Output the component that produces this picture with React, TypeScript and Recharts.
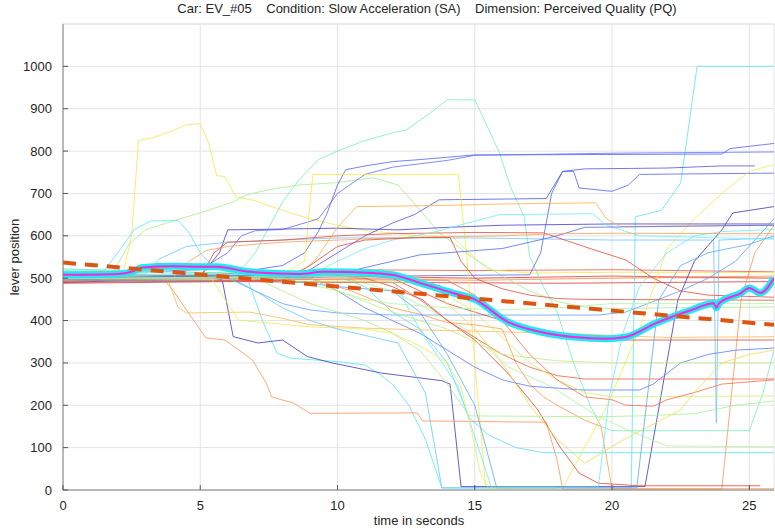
import React from 'react';
import { LineChart, Line, XAxis, YAxis, CartesianGrid, ReferenceLine } from 'recharts';

// time (s) / lever position pairs
const yellowSpike = [[0, 512], [2.2, 515], [2.5, 600], [2.75, 825], [3.3, 832], [4, 848], [4.5, 862], [5, 865], [5.3, 820], [5.6, 742], [5.9, 740], [6.3, 692], [7, 683], [8, 660], [9, 640], [10, 625], [11, 612], [12, 607], [13, 600], [14.2, 598], [14.8, 560], [15.5, 520], [17, 512], [20, 514], [25.9, 513]];
const aquaHump = [[0, 505], [5, 508], [6.5, 520], [7, 560], [7.5, 620], [8, 680], [8.6, 732], [9.3, 780], [10, 800], [11, 825], [12, 843], [12.5, 850], [13.3, 886], [14, 921], [15, 921], [15.3, 880], [15.9, 796], [16.3, 716], [16.8, 645], [17, 551], [17.5, 480], [18, 420], [18.6, 300], [19.2, 200], [19.6, 150], [20, 140], [25, 140], [25.5, 230], [25.9, 330]];
const greenRise = [[0, 500], [1.8, 510], [2.4, 580], [3, 614], [4, 635], [5, 654], [6.2, 680], [6.7, 697], [7.5, 709], [8.6, 720], [9.9, 725], [11.3, 737], [12.2, 720], [13, 661], [13.7, 607], [14.4, 574], [15, 545], [16, 505], [17, 470], [18, 445], [19, 432], [20, 428], [22, 430], [25.9, 432]];
const cyanTo1000 = [[0, 515], [1.5, 518], [2, 560], [2.6, 615], [3.2, 635], [4.2, 636], [4.6, 607], [5, 560], [5.5, 525], [6.7, 502], [7.3, 394], [7.8, 323], [8.3, 311], [10, 303], [11, 295], [11.5, 275], [12, 250], [12.6, 200], [13.2, 120], [13.8, 5], [20.7, 5], [20.85, 645], [21.8, 660], [22.5, 725], [23.1, 1000], [25.9, 1000]];
const blueTop = [[0, 498], [6, 510], [8, 530], [8.8, 560], [9.3, 610], [9.6, 650], [10, 720], [10.3, 756], [11, 765], [12, 775], [13, 780], [15, 791], [20, 792], [24, 793], [24.3, 806], [25.9, 818]];
const blueFlat = [[0, 508], [5, 520], [6, 560], [6.5, 600], [7, 612], [8, 615], [9.3, 640], [10, 700], [11, 745], [12, 762], [13, 770], [14, 778], [15, 790], [20, 795], [25.9, 798]];
const blueStep = [[0, 502], [8, 505], [9, 520], [10, 560], [11, 600], [12, 630], [12.8, 650], [13.7, 685], [17.6, 688], [18.2, 752], [19, 758], [22, 760], [24, 765], [25.2, 765]];
const blueLate = [[0, 496], [12, 505], [17, 508], [17.4, 560], [17.8, 700], [18.2, 752], [18.6, 752], [18.8, 713], [20, 705], [20.6, 720], [21, 745], [25.9, 748]];
const yellowPlateau = [[0, 520], [8, 510], [8.8, 540], [9.1, 745], [14.4, 745], [14.7, 560], [15, 300], [15.4, 5], [18.2, 5], [19, 100], [19.8, 196], [21, 380], [22, 570], [23, 640], [24, 700], [25, 752], [25.9, 768]];
const navyHigh = [[0, 494], [5, 505], [5.7, 560], [6, 614], [8, 616], [10, 618], [12.2, 614], [14, 620], [16, 625], [20, 628], [25.9, 628]];
const navyDrop = [[0, 490], [5.5, 500], [5.8, 496], [6.2, 362], [7.1, 347], [8, 354], [8.9, 315], [9.8, 300], [11.6, 276], [13.8, 258], [14.1, 250], [14.5, 8], [21.2, 8], [22.4, 449], [23, 540], [24, 614], [24.4, 654], [25.9, 669]];
const orangeLow = [[0, 495], [3.7, 495], [4, 472], [4.5, 425], [5, 378], [5.2, 359], [5.9, 354], [6.4, 331], [6.9, 307], [7.4, 253], [7.6, 220], [8.4, 205], [9, 181], [12.9, 182], [13.1, 163], [17.6, 160], [18, 71], [18.2, 2], [24, 2], [24.7, 449], [25.2, 560], [25.9, 625]];
const orangeMid = [[0, 503], [9, 500], [10.5, 470], [12, 430], [13, 415], [14, 395], [15, 390], [16, 380], [16.5, 300], [17, 250], [17.5, 220], [18, 200], [19, 165], [19.6, 150], [20, 3], [25.9, 3]];
const blue413 = [[0, 510], [6, 505], [7, 470], [8, 440], [9, 425], [10, 418], [12, 413], [19.5, 413], [20.5, 420], [21.5, 445], [22.5, 470], [23.5, 500], [24.5, 540], [25.2, 590], [25.9, 640]];
const redDiag = [[0, 500], [10, 505], [11, 500], [12, 480], [12.5, 465], [13.1, 449], [14, 400], [15, 354], [16.2, 276], [17.3, 189], [18.1, 102], [18.8, 40], [19.5, 16], [21, 10], [25.4, 10]];
const skySpike = [[0, 506], [3, 510], [3.5, 545], [4.5, 575], [6, 585], [10, 595], [15, 595], [20, 590], [23.7, 590], [23.8, 158], [23.9, 590], [25.9, 595]];
const cyan88 = [[0, 522], [10, 505], [11, 480], [12, 420], [13, 380], [14, 300], [14.8, 170], [15.5, 130], [16.5, 100], [17.5, 88], [25.9, 88]];
const green173 = [[0, 505], [7, 500], [8, 470], [9, 440], [10, 420], [11, 400], [12, 370], [13, 330], [14, 250], [14.8, 175], [19.5, 173], [21, 175], [23, 180], [24.5, 200], [25.9, 210]];
const greenDiag = [[0, 512], [10, 505], [12, 470], [13.5, 420], [14.7, 378], [16.2, 291], [17.8, 244], [19.5, 173], [21, 130], [22, 104], [25.9, 102]];
const orange418 = [[0, 500], [3.8, 500], [4.2, 430], [4.5, 418], [6.8, 420], [8, 405], [9, 390], [11, 382], [13, 378], [15, 375], [18, 370], [20, 365], [22, 360], [25.9, 362]];
const red355 = [[0, 500], [11, 505], [12, 500], [13, 470], [14, 440], [15, 420], [16, 400], [17, 380], [18, 360], [19.2, 354], [25.9, 354]];
const red262 = [[0, 495], [12, 490], [13, 450], [14, 400], [15, 360], [16, 320], [17, 290], [18, 270], [19, 262], [25.9, 262]];
const blue236 = [[0, 500], [9, 500], [10, 470], [11, 430], [12, 400], [13, 370], [14, 330], [15, 290], [16, 260], [17, 245], [19, 236], [21, 236], [21.5, 250], [22.5, 300], [23.5, 320], [24.5, 330], [25.9, 335]];
const green300 = [[0, 505], [8, 500], [10, 470], [12, 420], [14, 380], [15, 350], [16, 320], [18, 305], [20, 300], [25.9, 300]];
const green220 = [[0, 500], [13, 490], [14, 460], [15, 420], [16, 360], [17, 300], [18, 260], [19, 230], [20, 220], [25.9, 222]];
const red213 = [[0, 500], [14, 495], [15, 460], [16, 400], [17, 320], [18, 260], [19, 220], [20, 213], [20.5, 200], [21.5, 198], [22, 213], [23, 230], [24, 250], [25.9, 260]];
const yellowDip = [[0, 500], [12, 505], [13, 500], [14, 440], [15, 380], [16, 300], [17, 200], [18, 120], [19, 63], [20.4, 118], [22.5, 189], [23, 230], [24, 300], [25, 320], [25.9, 330]];
const cyanRebound = [[0, 518], [12, 500], [13, 378], [14.4, 244], [14.8, 165], [15.6, 7], [19.5, 7], [19.9, 221], [20.4, 371], [21, 480], [22, 560], [23, 600], [24, 610], [25.9, 615]];
const skyRebound = [[0, 494], [8, 495], [10, 480], [12, 470], [13, 420], [14, 320], [15, 200], [15.8, 5], [20.9, 5], [21.7, 449], [22.5, 530], [23.5, 560], [25, 580], [25.9, 600]];
const redHigh = [[0, 500], [5, 500], [5.5, 560], [6, 585], [8, 590], [10, 600], [12, 605], [15, 608], [17.5, 607], [19.2, 570], [20.5, 543], [21.5, 500], [22.5, 470], [23.5, 460], [25.9, 455]];
const orange675 = [[0, 500], [8.5, 505], [9.2, 543], [10, 620], [10.7, 669], [12, 670], [14, 672], [16, 675], [19.4, 678], [19.8, 640], [20.3, 622], [25.9, 625]];
const cyan650 = [[0, 500], [9, 505], [10, 540], [11, 570], [12, 590], [13.4, 607], [15.9, 650], [19.3, 652], [19.8, 625], [21, 600], [25.9, 592]];
const blue625 = [[0, 500], [10, 510], [12, 540], [13, 555], [14, 560], [16, 570], [18, 600], [19, 620], [25.9, 625]];
const orange600 = [[0, 495], [4, 500], [4.6, 540], [5.2, 565], [6, 575], [8, 585], [10, 590], [12, 595], [14, 598], [16, 600], [18, 605], [20, 606], [25.9, 605]];
const red449 = [[0, 490], [8, 495], [9, 530], [10, 575], [11, 590], [13, 596], [14.1, 596], [14.5, 540], [15, 500], [16, 475], [17, 460], [18, 452], [19, 450], [25.9, 448]];
const yellowFall = [[0, 500], [5.4, 500], [6, 440], [6.4, 401], [9, 385], [11, 380], [12, 370], [13, 340], [14, 300], [14.5, 244], [14.9, 135], [15.2, 40], [15.5, 5], [18, 5]];
const skyFall = [[0, 498], [6, 500], [7, 470], [8, 430], [9, 400], [10, 380], [11, 365], [12.2, 347], [13.2, 229], [13.8, 5], [18, 5]];
const green435 = [[0, 500], [9, 500], [10, 470], [11, 450], [12, 440], [14, 430], [16, 425], [18, 430], [20, 440], [25.9, 440]];
const redBand = [[0, 495], [5, 500], [10, 505], [15, 500], [20, 505], [25.9, 500]];
const redBandHigh = [[0, 492], [4, 500], [6, 510], [10, 520], [15, 518], [20, 520], [25.9, 515]];
const orangeBand = [[0, 510], [5, 505], [10, 500], [15, 495], [20, 500], [25.9, 505]];
const redBandLow = [[0, 488], [6, 492], [12, 490], [18, 488], [25.9, 492]];

const meanCurve = [[0, 508], [2, 510], [2.5, 515], [2.9, 525], [4, 528], [5, 527], [5.6, 527], [6.8, 515], [8.6, 510], [9.5, 515], [11.3, 512], [12, 508], [13, 489], [14.2, 465], [15, 450], [16.2, 397], [17.4, 373], [18.6, 361], [19.8, 357], [20.5, 361], [21.6, 394], [22.9, 425], [23.7, 441], [23.8, 430], [23.9, 441], [24.7, 465], [25, 477], [25.4, 465], [25.9, 500]];
const trendLine = [[0, 537], [25.9, 390]];

const xTicks = [0, 5, 10, 15, 20, 25];
const yTicks = [0, 100, 200, 300, 400, 500, 600, 700, 800, 900, 1000];

const traces: [number[][], string][] = [
  [redBandLow, '#d8332a'],
  [orangeBand, '#ff8a48'],
  [redBand, '#e23a2c'],
  [redBandHigh, '#ee5533'],
  [yellowSpike, '#eee84a'],
  [aquaHump, '#6feec0'],
  [greenRise, '#a2ee88'],
  [cyanTo1000, '#4fe8f5'],
  [blueTop, '#5060f2'],
  [blueFlat, '#5a6cff'],
  [blueStep, '#4f4fe0'],
  [blueLate, '#4a62f0'],
  [yellowPlateau, '#f2ec40'],
  [navyHigh, '#4234c8'],
  [navyDrop, '#3a32b8'],
  [orangeLow, '#ff8f55'],
  [orangeMid, '#ff9840'],
  [blue413, '#5c9cff'],
  [redDiag, '#e8402e'],
  [skySpike, '#70c0ff'],
  [cyan88, '#58dcea'],
  [green173, '#a8ee90'],
  [greenDiag, '#b4f09a'],
  [orange418, '#ffb850'],
  [red355, '#dd4433'],
  [red262, '#ee5a38'],
  [blue236, '#5878ff'],
  [green300, '#bcee78'],
  [green220, '#cfee68'],
  [red213, '#ff6644'],
  [yellowDip, '#ecdc48'],
  [cyanRebound, '#66ecff'],
  [skyRebound, '#56a8ee'],
  [redHigh, '#e84433'],
  [orange675, '#ffb040'],
  [cyan650, '#66eef5'],
  [blue625, '#4868ee'],
  [orange600, '#ff9c50'],
  [red449, '#e04a36'],
  [yellowFall, '#e6ee55'],
  [skyFall, '#62c8ff'],
  [green435, '#acf4a8'],
];

const toPoints = (arr: number[][]) => arr.map(([t, v]) => ({ t, v }));

const font = '"Liberation Sans", Arial, sans-serif';
const PLOT_LEFT = 63;
const PLOT_BOTTOM = 490;

// tick labels with MATLAB-style inward tick marks
const YTick = (props: any) => {
  const { x, y, payload } = props;
  return (
    <g>
      <line x1={PLOT_LEFT} x2={PLOT_LEFT + 5} y1={y} y2={y} stroke="#555" />
      <text x={x} y={y} dy={4.5} textAnchor="end" fill="#262626" fontSize={13} fontFamily={font}>{payload.value}</text>
    </g>
  );
};

const XTick = (props: any) => {
  const { x, y, payload } = props;
  return (
    <g>
      <line x1={x} x2={x} y1={PLOT_BOTTOM} y2={PLOT_BOTTOM - 5} stroke="#555" />
      <text x={x} y={y} dy={10} textAnchor="middle" fill="#262626" fontSize={13} fontFamily={font}>{payload.value}</text>
    </g>
  );
};

export default function App() {
  return (
    <div style={{ position: 'absolute', left: 0, top: 0, width: 775, height: 528, background: '#fff', fontFamily: font }}>
      <div style={{ position: 'absolute', top: 1, left: 71, width: 712, textAlign: 'center', fontSize: 13, color: '#262626', whiteSpace: 'pre' }}>
        {'Car: EV_#05    Condition: Slow Acceleration (SA)    Dimension: Perceived Quality (PQ)'}
      </div>
      <LineChart width={775} height={528} margin={{ top: 24, right: 1, bottom: 8, left: 13 }}>
        <CartesianGrid stroke="#e4e4e4" />
        <ReferenceLine y={1100} stroke="#e4e4e4" />
        <XAxis
          type="number"
          dataKey="t"
          domain={[0, 25.9]}
          ticks={xTicks}
          allowDataOverflow
          height={30}
          tick={<XTick />}
          tickLine={false}
          tickMargin={4}
          stroke="#808080"
        />
        <YAxis
          type="number"
          domain={[0, 1100]}
          ticks={yTicks}
          allowDataOverflow
          width={50}
          tick={<YTick />}
          tickLine={false}
          tickMargin={5}
          stroke="#808080"
        />
        {traces.map(([arr, color], i) => (
          <Line
            key={i}
            data={toPoints(arr)}
            dataKey="v"
            type="linear"
            stroke={color}
            strokeWidth={1}
            strokeOpacity={0.78}
            dot={false}
            isAnimationActive={false}
          />
        ))}
        <Line data={toPoints(meanCurve)} dataKey="v" type="monotone" stroke="#22e8f2" strokeWidth={7} dot={false} isAnimationActive={false} />
        <Line data={toPoints(meanCurve)} dataKey="v" type="monotone" stroke="#ff22dd" strokeWidth={2} dot={false} isAnimationActive={false} />
        <Line data={toPoints(trendLine)} dataKey="v" type="linear" stroke="#dd5511" strokeWidth={4} strokeDasharray="13 9" dot={false} isAnimationActive={false} />
      </LineChart>
      <div style={{ position: 'absolute', top: 513, left: 63, width: 712, textAlign: 'center', fontSize: 13, color: '#262626' }}>time in seconds</div>
      <div style={{ position: 'absolute', left: 14, top: 257, transform: 'translate(-50%, -50%) rotate(-90deg)', fontSize: 13, color: '#262626', whiteSpace: 'nowrap' }}>lever position</div>
    </div>
  );
}
